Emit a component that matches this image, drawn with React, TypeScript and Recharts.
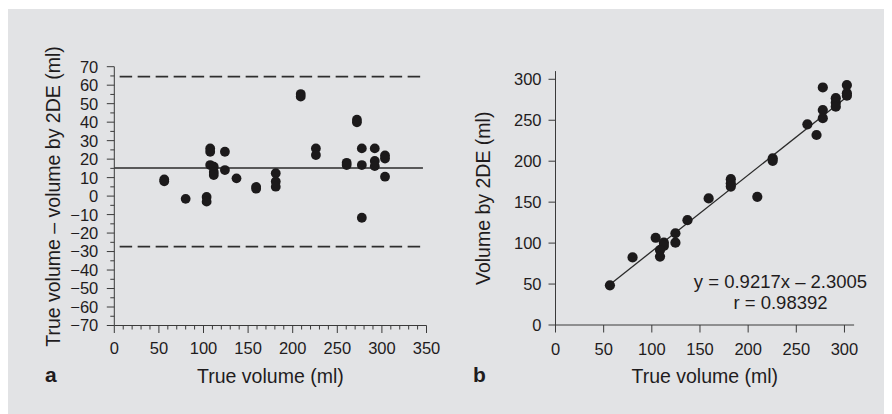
import React from 'react';
import { ScatterChart, Scatter, XAxis, YAxis, ReferenceLine, Customized } from 'recharts';

// Panel a: Bland-Altman (true volume vs difference)
const aTrueVolume = [56, 56, 80, 103.5, 103.5, 107.5, 107.5, 107.5, 111.5, 111.5, 111.5, 124, 124, 137, 159, 159, 181, 181, 181, 209, 209, 226, 226, 260.5, 260.5, 272, 272, 277.5, 277.5, 277.5, 292, 292, 292, 303.5, 303.5, 303.5];
const aDifference = [8, 9, -1.5, -0.5, -3, 25.8, 24, 16.8, 15.9, 13, 11.4, 24, 14.1, 9.6, 5, 4, 12.4, 7.9, 5.1, 55.2, 53.8, 25.8, 22.2, 18, 16.8, 41.3, 39.9, 25.8, 16.8, -11.7, 25.8, 19, 16.2, 22, 20.3, 10.5];
const aXTicks = [0, 10, 20, 30, 40, 50, 60, 70, 80, 90, 100, 110, 120, 130, 140, 150, 160, 170, 180, 190, 200, 210, 220, 230, 240, 250, 260, 270, 280, 290, 300, 310, 320, 330, 340, 350];
const aYTicks = [-70, -65, -60, -55, -50, -45, -40, -35, -30, -25, -20, -15, -10, -5, 0, 5, 10, 15, 20, 25, 30, 35, 40, 45, 50, 55, 60, 65, 70];
const aMeanLine = 15.2;
const aUpperLimit = 64.6;
const aLowerLimit = -27.3;

// Panel b: regression (true volume vs 2DE volume)
const bTrueVolume = [56.5, 80, 104, 112.5, 112.5, 108.5, 108.5, 124.5, 124.5, 137, 159, 182, 182, 182, 209.5, 225.5, 225.5, 261.5, 271, 277.5, 277.5, 277.5, 291, 291, 291, 302.5, 302.5, 302.5];
const b2DEVolume = [48.5, 82.5, 106.5, 100.5, 96.5, 91.5, 83.5, 112, 100.5, 128, 154.5, 178, 173, 169, 156.5, 203.5, 200.5, 245, 232, 290, 262.5, 252.5, 277, 271.5, 266.5, 293, 283, 280];
const bXTicks = [0, 50, 100, 150, 200, 250, 300];
const bYTicks = [0, 50, 100, 150, 200, 250, 300];
const bFitStart = { x: 56.5, y: 49.5 };
const bFitEnd = { x: 302, y: 278 };
const bEquation = 'y = 0.9217x \u2013 2.3005';
const bCorrelation = 'r = 0.98392';

const aData = aTrueVolume.map((x, i) => ({ x, y: aDifference[i] }));
const bData = bTrueVolume.map((x, i) => ({ x, y: b2DEVolume[i] }));

const FONT = '"Liberation Sans", Arial, Helvetica, sans-serif';
const INK = '#1f1c1d';
const AXIS = '#3a3a3a';
const DOT = '#1c1a1b';

const fmt = (v: number) => (v < 0 ? '\u2212' + Math.abs(v) : String(v));

const XTickA = (props: any) => {
  const { x, y, payload } = props;
  const v = payload.value;
  const major = v % 50 === 0;
  return (
    <g>
      <line x1={x} y1={y} x2={x} y2={y + (major ? 7.5 : 4)} stroke={AXIS} strokeWidth={1} />
      {major && (
        <text x={x} y={y + 28.5} textAnchor="middle" fontSize={16.5} fontFamily={FONT} fill={INK}>
          {fmt(v)}
        </text>
      )}
    </g>
  );
};

const YTickA = (props: any) => {
  const { x, y, payload } = props;
  const v = payload.value;
  const major = v % 10 === 0;
  return (
    <g>
      <line x1={x} y1={y} x2={x - (major ? 7.5 : 4)} y2={y} stroke={AXIS} strokeWidth={1} />
      {major && (
        <text x={x - 16} y={y} dy="0.36em" textAnchor="end" fontSize={16.5} fontFamily={FONT} fill={INK}>
          {fmt(v)}
        </text>
      )}
    </g>
  );
};

const XTickB = (props: any) => {
  const { x, y, payload } = props;
  return (
    <g>
      <line x1={x} y1={y} x2={x} y2={y + 7.5} stroke={AXIS} strokeWidth={1} />
      <text x={x} y={y + 29.5} textAnchor="middle" fontSize={16.5} fontFamily={FONT} fill={INK}>
        {fmt(payload.value)}
      </text>
    </g>
  );
};

const YTickB = (props: any) => {
  const { x, y, payload } = props;
  return (
    <g>
      <line x1={x} y1={y} x2={x - 7} y2={y} stroke={AXIS} strokeWidth={1} />
      <text x={x - 14} y={y} dy="0.36em" textAnchor="end" fontSize={16.5} fontFamily={FONT} fill={INK}>
        {fmt(payload.value)}
      </text>
    </g>
  );
};

const dotA = (props: any) => <circle cx={props.cx} cy={props.cy} r={4.9} fill={DOT} />;
const dotB = (props: any) => <circle cx={props.cx} cy={props.cy} r={5.1} fill={DOT} />;

const TextsA = () => (
  <g fontFamily={FONT} fill={INK}>
    <text
      transform="translate(44.5,187.5) rotate(-90)"
      textAnchor="middle"
      dy="0.36em"
      fontSize={19.5}
    >
      True volume – volume by 2DE (ml)
    </text>
    <text x={262.4} y={374.3} textAnchor="middle" fontSize={19.5}>
      True volume (ml)
    </text>
    <text x={37} y={373} fontSize={21} fontWeight="bold">
      a
    </text>
  </g>
);

const TextsB = () => (
  <g fontFamily={FONT} fill={INK}>
    <text
      transform="translate(34.5,189.3) rotate(-90)"
      textAnchor="middle"
      dy="0.36em"
      fontSize={19.5}
    >
      Volume by 2DE (ml)
    </text>
    <text x={256.8} y={374.3} textAnchor="middle" fontSize={19.5}>
      True volume (ml)
    </text>
    <text x={25} y={373} fontSize={21} fontWeight="bold">
      b
    </text>
    <text x={332.5} y={278.8} textAnchor="middle" fontSize={18.5}>
      {bEquation}
    </text>
    <text x={332.5} y={300} textAnchor="middle" fontSize={18.5}>
      {bCorrelation}
    </text>
  </g>
);

export default function App() {
  return (
    <div
      style={{
        position: 'relative',
        width: 884,
        height: 405,
        marginTop: 1,
        background: '#e2e3e5',
        overflow: 'hidden',
      }}
    >
      <div style={{ position: 'absolute', left: 0, top: 0 }}>
        <ScatterChart
          width={440}
          height={405}
          margin={{ top: 57.7, right: 21.5, bottom: 58.5, left: 46.3 }}
        >
          <XAxis
            type="number"
            dataKey="x"
            domain={[0, 350]}
            ticks={aXTicks}
            interval={0}
            tickSize={0}
            tickMargin={0}
            height={30}
            tick={XTickA}
            tickLine={false}
            axisLine={{ stroke: AXIS, strokeWidth: 1 }}
          />
          <YAxis
            type="number"
            dataKey="y"
            domain={[-70, 70]}
            ticks={aYTicks}
            interval={0}
            tickSize={0}
            tickMargin={0}
            width={60}
            tick={YTickA}
            tickLine={false}
            axisLine={{ stroke: AXIS, strokeWidth: 1 }}
          />
          <ReferenceLine
            segment={[{ x: 6, y: aUpperLimit }, { x: 346, y: aUpperLimit }]}
            stroke="#2e2e2e"
            strokeWidth={1.7}
            strokeDasharray="12.5 5.5"
          />
          <ReferenceLine
            segment={[{ x: 6, y: aLowerLimit }, { x: 346, y: aLowerLimit }]}
            stroke="#2e2e2e"
            strokeWidth={1.7}
            strokeDasharray="12.5 5.5"
          />
          <ReferenceLine
            segment={[{ x: 0, y: aMeanLine }, { x: 346, y: aMeanLine }]}
            stroke="#2a2a2a"
            strokeWidth={1.3}
          />
          <Scatter data={aData} isAnimationActive={false} shape={dotA} />
          <Customized component={TextsA} />
        </ScatterChart>
      </div>
      <div style={{ position: 'absolute', left: 440, top: 0 }}>
        <ScatterChart
          width={444}
          height={405}
          margin={{ top: 62.1, right: 37.9, bottom: 59, left: 47.5 }}
        >
          <XAxis
            type="number"
            dataKey="x"
            domain={[0, 310]}
            ticks={bXTicks}
            interval={0}
            tickSize={0}
            tickMargin={0}
            height={30}
            tick={XTickB}
            tickLine={false}
            axisLine={{ stroke: AXIS, strokeWidth: 1 }}
          />
          <YAxis
            type="number"
            dataKey="y"
            domain={[0, 310]}
            ticks={bYTicks}
            interval={0}
            tickSize={0}
            tickMargin={0}
            width={60}
            tick={YTickB}
            tickLine={false}
            axisLine={{ stroke: AXIS, strokeWidth: 1 }}
          />
          <ReferenceLine segment={[bFitStart, bFitEnd]} stroke="#2a2a2a" strokeWidth={1.3} />
          <Scatter data={bData} isAnimationActive={false} shape={dotB} />
          <Customized component={TextsB} />
        </ScatterChart>
      </div>
    </div>
  );
}
